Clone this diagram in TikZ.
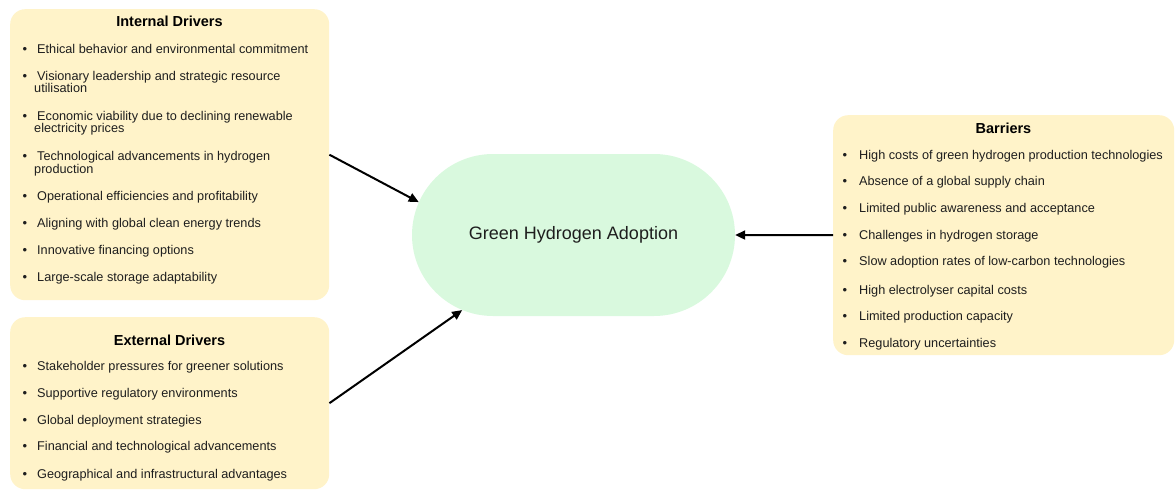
\documentclass[tikz,border=0pt]{standalone}
\usepackage{fontspec}
\setmainfont{Liberation Sans}
\usetikzlibrary{arrows.meta,shapes.misc}
\definecolor{boxy}{HTML}{FFF3C9}
\definecolor{hgreen}{HTML}{D9F9DE}
\definecolor{txt}{HTML}{1E1E1E}
\newcommand\bitem[5]{% name, bullet x, text x, baseline y, text
  \node[bul] (#1b) at (#2,#4) {•};
  \node[itemtxt] (#1) at (#3,#4) {#5};}
\newcommand\citem[4]{% name, x, baseline y, text (continuation line)
  \node[itemtxt] (#1) at (#2,#3) {#4};}
\begin{document}
\begin{tikzpicture}[x=1pt,y=-1pt,
  panel/.style={draw=none,fill=boxy,rounded corners=15pt,inner sep=0pt,anchor=north west},
  ptitle/.style={font=\fontsize{14.5}{16}\selectfont\bfseries,text=black,anchor=base,inner sep=0pt},
  itemtxt/.style={font=\fontsize{12.7}{14}\selectfont,text=txt,anchor=base west,inner sep=0pt},
  bul/.style={font=\fontsize{13}{14}\selectfont,text=txt,anchor=base,inner sep=0pt},
  link/.style={line width=2pt,-{Triangle[length=10pt,width=9pt]}}
]
\useasboundingbox (0,0) rectangle (1175,490);

% panels
\node[panel,minimum width=319pt,minimum height=291pt] (int) at (10,9) {};
\node[panel,minimum width=319pt,minimum height=172pt] (ext) at (10,317) {};
\node[panel,minimum width=341pt,minimum height=240pt] (bar) at (833,115) {};

% central node
\node[rounded rectangle,fill=hgreen,draw=none,minimum width=323pt,minimum height=162pt,
      inner sep=0pt,font=\fontsize{18}{20}\selectfont,text=txt] (hga) at (573.5,235) {Green Hydrogen Adoption};

% Internal drivers
\node[ptitle] (intT) at (169.5,26.7) {Internal Drivers};
\bitem{i1}{25}{37}{53.3}{Ethical behavior and environmental commitment}
\bitem{i2}{25}{37}{80}{Visionary leadership and strategic resource}
\citem{i2c}{34}{92.7}{utilisation}
\bitem{i3}{25}{37}{120.7}{Economic viability due to declining renewable}
\citem{i3c}{34}{132.7}{electricity prices}
\bitem{i4}{25}{37}{160}{Technological advancements in hydrogen}
\citem{i4c}{34}{173}{production}
\bitem{i5}{25}{37}{200}{Operational efficiencies and profitability}
\bitem{i6}{25}{37}{227}{Aligning with global clean energy trends}
\bitem{i7}{25}{37}{254}{Innovative financing options}
\bitem{i8}{25}{37}{281}{Large-scale storage adaptability}

% External drivers
\node[ptitle] (extT) at (169.5,345) {External Drivers};
\bitem{e1}{25}{37}{370}{Stakeholder pressures for greener solutions}
\bitem{e2}{25}{37}{397}{Supportive regulatory environments}
\bitem{e3}{25}{37}{424.3}{Global deployment strategies}
\bitem{e4}{25}{37}{450.7}{Financial and technological advancements}
\bitem{e5}{25}{37}{478.3}{Geographical and infrastructural advantages}

% Barriers
\node[ptitle] (barT) at (1003.5,133.3) {Barriers};
\bitem{b1}{845}{859}{159.3}{High costs of green hydrogen production technologies}
\bitem{b2}{845}{859}{185}{Absence of a global supply chain}
\bitem{b3}{845}{859}{212.3}{Limited public awareness and acceptance}
\bitem{b4}{845}{859}{239.3}{Challenges in hydrogen storage}
\bitem{b5}{845}{859}{265.7}{Slow adoption rates of low-carbon technologies}
\bitem{b6}{845}{859}{294}{High electrolyser capital costs}
\bitem{b7}{845}{859}{320.7}{Limited production capacity}
\bitem{b8}{845}{859}{347.3}{Regulatory uncertainties}

% connectors
\draw[link] (int.east) -- (hga.168.7);
\draw[link] (ext.east) -- (hga.214.8);
\draw[link] (bar.west) -- (hga.east);
\end{tikzpicture}
\end{document}
